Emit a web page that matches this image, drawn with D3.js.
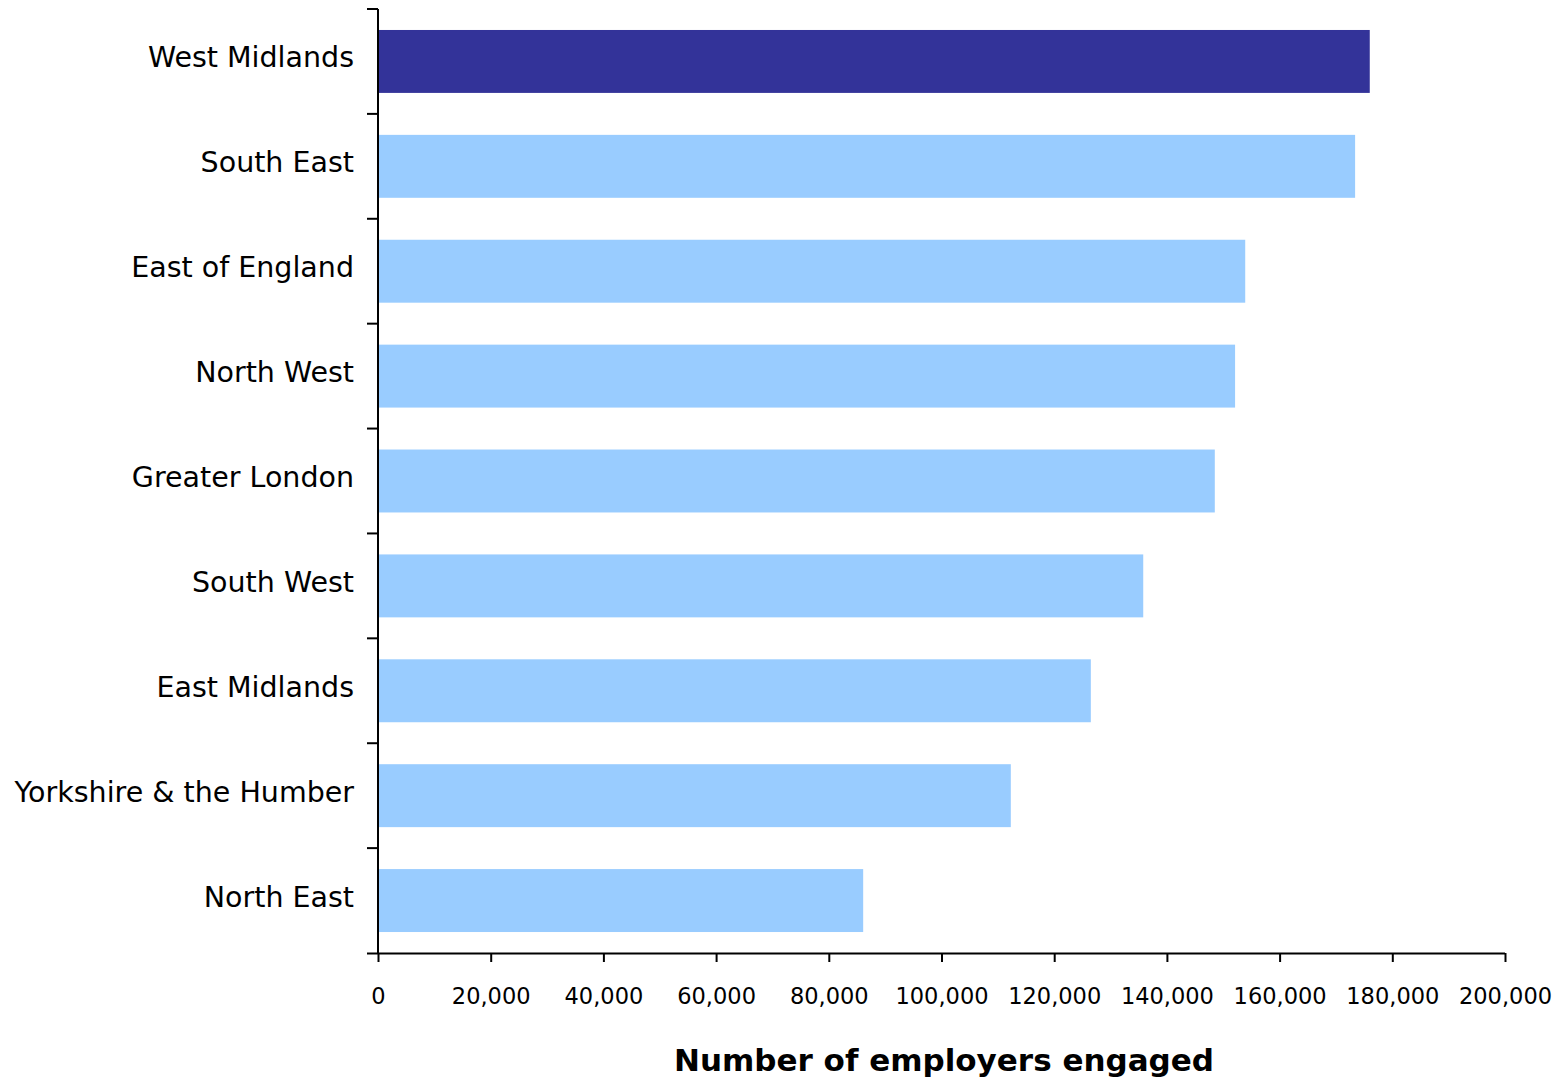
<!DOCTYPE html>
<html><head><meta charset="utf-8">
<script src="https://cdn.jsdelivr.net/npm/d3@7"></script>
<style>body{margin:0;background:#fff}svg{display:block}</style>
</head><body>
<svg id="c" width="1560" height="1081"></svg>
<script>
const regions = ["West Midlands","South East","East of England","North West","Greater London","South West","East Midlands","Yorkshire & the Humber","North East"];
const employers = [176000,173400,153900,152100,148500,135800,126500,112300,86100];
const highlight = ["West Midlands"];
const xTicks = [0,20000,40000,60000,80000,100000,120000,140000,160000,180000,200000];
const xTitle = "Number of employers engaged";

const svg = d3.select("#c");
const x0 = 378, x1 = 1505, yTop = 9, yBot = 953;
const x = d3.scaleLinear().domain([0,200000]).range([x0,x1]);
const y = d3.scaleBand().domain(regions).range([yTop,yBot]).paddingInner(0.4).paddingOuter(0.2);
const fmt = d3.format(",");
const font = "'DejaVu Sans', Verdana, sans-serif";

svg.selectAll("rect.bar").data(regions).enter().append("rect")
  .attr("x", x(0)+1).attr("y", d=>y(d))
  .attr("width", (d,i)=>x(employers[i])-x(0)-1)
  .attr("height", y.bandwidth())
  .attr("fill", d=>highlight.includes(d)?"#333399":"#99CCFF");

// x axis
const xa = svg.append("g").attr("transform",`translate(0,${yBot})`)
  .call(d3.axisBottom(x).tickValues(xTicks).tickFormat(fmt).tickSize(9).tickSizeOuter(0).tickPadding(26));
xa.select(".domain").attr("d",`M${x0-11},0.5H${x1}`).attr("stroke","#000").attr("stroke-width",2);
xa.selectAll(".tick line").attr("stroke","#000").attr("stroke-width",2);
xa.selectAll(".tick text").attr("font-family",font).attr("font-size","22.5px").attr("fill","#000");

// y axis
const step = y.step();
const bounds = d3.range(regions.length+1).map(i=>yTop+i*step);
svg.append("line").attr("x1",x0).attr("x2",x0).attr("y1",yTop).attr("y2",yBot+1)
  .attr("stroke","#000").attr("stroke-width",2);
svg.selectAll("line.yt").data(bounds.slice(0,-1)).enter().append("line")
  .attr("x1",x0-11).attr("x2",x0).attr("y1",d=>d).attr("y2",d=>d)
  .attr("stroke","#000").attr("stroke-width",2);
svg.selectAll("text.yl").data(regions).enter().append("text")
  .attr("x",354).attr("y",d=>y(d)+y.bandwidth()/2-4)
  .attr("dy","0.35em").attr("text-anchor","end")
  .attr("font-family",font).attr("font-size","28.5px").attr("fill","#000")
  .text(d=>d);

svg.append("text").attr("x",944).attr("y",1071).attr("text-anchor","middle")
  .attr("font-family",font).attr("font-weight","bold").attr("font-size","31px").attr("fill","#000")
  .text(xTitle);
</script>
</body></html>
